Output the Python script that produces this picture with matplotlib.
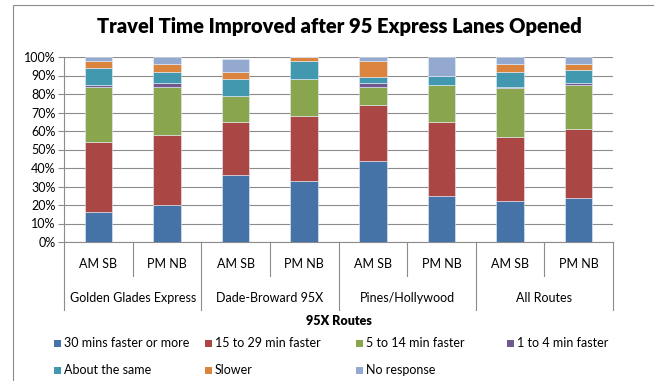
import numpy as np
import matplotlib
matplotlib.use("Agg")
import matplotlib.pyplot as plt
from matplotlib.patches import Rectangle
from matplotlib.ticker import PercentFormatter

plt.rcParams['font.family'] = ['Lato', 'DejaVu Sans']

# Survey responses per route / direction (percent of riders)
groups = ["Golden Glades Express", "Dade-Broward 95X", "Pines/Hollywood", "All Routes"]
directions = ["AM SB", "PM NB"]
responses = ["30 mins faster or more", "15 to 29 min faster", "5 to 14 min faster",
             "1 to 4 min faster", "About the same", "Slower", "No response"]

faster_30 = [16, 20, 36, 33, 44, 25, 22, 24]
faster_15_29 = [38, 38, 29, 35, 30, 40, 35, 37]
faster_5_14 = [30, 26, 14, 20, 10, 20, 26, 24]
faster_1_4 = [1, 2, 0, 0, 2, 0, 1, 1]
same = [9, 6, 9, 10, 3, 5, 8, 7]
slower = [4, 4, 4, 2, 9, 0, 4, 3]
no_response = [2, 4, 7, 0, 2, 10, 4, 4]

colors = ['#4572A7', '#AA4643', '#89A54E', '#71588F', '#4198AF', '#DB843D', '#93A9CF']

series = [faster_30, faster_15_29, faster_5_14, faster_1_4, same, slower, no_response]

fig = plt.figure(figsize=(6.54, 3.81), dpi=100)
ax = fig.add_axes([64 / 654, 1 - 242 / 381, 549 / 654, 185 / 381])

x = np.arange(len(groups) * len(directions))
bottom = np.zeros(len(x))
for vals, color in zip(series, colors):
    vals = np.array(vals, dtype=float)
    ax.bar(x, vals, 0.4, bottom=bottom, color=color, edgecolor='#e6eef8',
           linewidth=0.4, zorder=3)
    bottom += vals

ax.set_xlim(-0.5, len(x) - 0.5)
ax.set_ylim(0, 100)
ax.set_yticks(np.arange(0, 101, 10))
ax.yaxis.set_major_formatter(PercentFormatter(decimals=0))
ax.tick_params(axis='y', labelsize=9, length=4, color='#8c8c8c', pad=2)
ax.grid(axis='y', color='#8c8c8c', linewidth=0.8, zorder=0)
for side in ['top', 'right', 'bottom']:
    ax.spines[side].set_visible(False)
ax.spines['left'].set_color('#8c8c8c')
ax.set_xticks([])

# Two-level category axis drawn below the plot
trans = ax.get_xaxis_transform()
axis_h = 185.0
inner_y = -(276 - 242) / axis_h
outer_y = -(310 - 242) / axis_h
ax.plot([-0.5, len(x) - 0.5], [0, 0], color='#8c8c8c', lw=0.8, transform=trans, clip_on=False)
for i in range(len(x) + 1):
    xpos = i - 0.5
    low = outer_y if i % 2 == 0 else inner_y
    ax.plot([xpos, xpos], [0, low], color='#8c8c8c', lw=0.8, transform=trans, clip_on=False)
for i in x:
    ax.text(i, -(264 - 242) / axis_h, directions[i % 2], transform=trans,
            ha='center', va='center', fontsize=9)
for g, name in enumerate(groups):
    ax.text(2 * g + 0.5, -(298 - 242) / axis_h, name, transform=trans,
            ha='center', va='center', fontsize=9)
ax.text(0.5, -(321 - 242) / axis_h, "95X Routes", transform=ax.transAxes,
        ha='center', va='center', fontsize=9, fontweight='heavy')

fig.text(339 / 654, 1 - 27 / 381, "Travel Time Improved after 95 Express Lanes Opened",
         ha='center', va='center', fontsize=14.5, fontweight='heavy')

# Legend laid out in a fixed 4-column grid
for k, (label, color) in enumerate(zip(responses, colors)):
    row, col = divmod(k, 4)
    mx = 57 + col * 151
    my = 343 + row * 27
    fig.patches.append(Rectangle(((mx - 3.5) / 654, 1 - (my + 3.5) / 381), 7 / 654, 7 / 381,
                                 transform=fig.transFigure, facecolor=color, edgecolor='none'))
    fig.text((mx + 7) / 654, 1 - my / 381, label, ha='left', va='center', fontsize=9)

# Chart frame
fig.patches.append(Rectangle((12.5 / 654, -0.1), 1.2, 1 - 4.5 / 381 + 0.1,
                             transform=fig.transFigure, fill=False,
                             edgecolor='#8c8c8c', linewidth=0.8))

fig.savefig("out.png", dpi=100)
